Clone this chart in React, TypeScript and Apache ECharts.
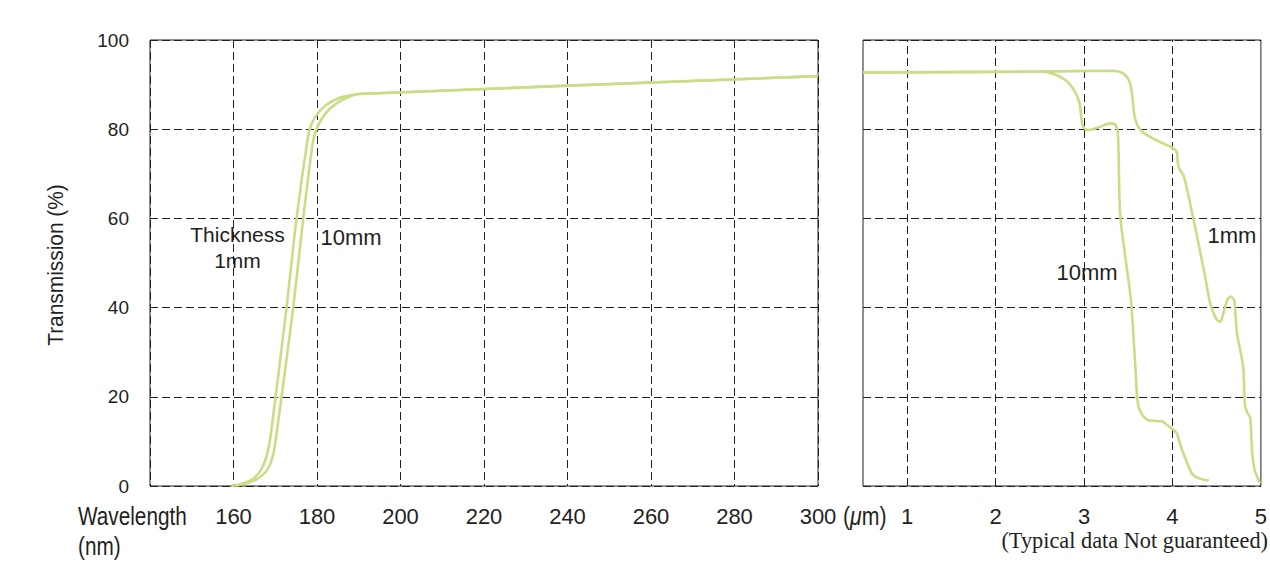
import React, { useEffect, useRef } from "react";
import * as echarts from "echarts";

// UV region (nm) — transmission (%)
const uv1mm: [number, number][] = [
  [159.5, 0], [162, 0.5], [164.5, 1.5], [166.5, 3.5], [168, 7], [169, 12],
  [172.7, 40], [175.1, 60], [177.8, 78], [178.6, 81], [180, 83.3], [182, 85.3],
  [185, 86.9], [188, 87.6], [190, 87.9], [300, 91.9],
];
const uv10mm: [number, number][] = [
  [160.5, 0], [163, 0.6], [165.5, 1.5], [168, 3.5], [169.5, 7], [170.5, 13],
  [174.3, 40], [176.7, 60], [179, 77], [180, 80.3], [182, 83.5], [185, 86],
  [188, 87.4], [190, 87.9], [300, 91.9],
];

// IR region (µm) — transmission (%)
const ir1mm: [number, number][] = [
  [0.5, 92.7], [2.5, 92.9], [3.3, 93.1], [3.38, 93], [3.45, 92.4], [3.5, 91.3],
  [3.53, 89.5], [3.55, 86.5], [3.57, 83], [3.6, 81], [3.66, 79.4], [3.81, 77.6],
  [3.95, 76.3], [4.01, 75.7], [4.05, 74.8], [4.06, 72.5], [4.08, 71], [4.13, 69.4],
  [4.24, 59.6], [4.37, 46.9], [4.42, 41.5], [4.45, 39.5], [4.5, 37.3], [4.54, 36.8],
  [4.58, 39], [4.62, 41.7], [4.66, 42.5], [4.7, 41.5], [4.71, 39], [4.73, 34.2],
  [4.8, 26.7], [4.82, 18], [4.85, 16.3], [4.88, 15.3], [4.9, 8], [4.93, 3.6], [4.99, 0.6],
];
const ir10mm: [number, number][] = [
  [0.5, 92.7], [2.55, 92.9], [2.68, 92.2], [2.76, 91.4], [2.83, 90.3], [2.9, 88.3],
  [2.95, 85.8], [2.97, 82.5], [2.99, 80.5], [3.04, 79.8], [3.15, 80.3], [3.3, 81.3],
  [3.35, 81.1], [3.38, 79.5], [3.39, 75.3], [3.41, 60.4], [3.53, 41.7], [3.58, 26.7],
  [3.6, 20], [3.62, 17.5], [3.66, 15.9], [3.72, 14.8], [3.8, 14.6], [3.88, 14.5],
  [3.95, 13.5], [4.01, 12.6], [4.05, 11.8], [4.07, 10.5], [4.11, 8], [4.22, 2.8],
  [4.3, 1.7], [4.41, 1.2],
];

const irGridLines = [1, 2, 3, 4];

const LINE = "#c8de86";
const INK = "#231f20";
const SANS = "'Liberation Sans', Arial, sans-serif";
const SERIF = "'Liberation Serif', 'Times New Roman', serif";

const dashed = { color: INK, width: 1, type: [8, 4] as any };

export default function App() {
  const ref = useRef<HTMLDivElement>(null);
  useEffect(() => {
    if (!ref.current) return;
    const chart = echarts.init(ref.current, undefined, { renderer: "svg" });
    const lineSeries = (data: [number, number][], idx: number, extra: any = {}) => ({
      type: "line",
      xAxisIndex: idx,
      yAxisIndex: idx,
      data,
      smooth: 0.25,
      showSymbol: false,
      symbol: "none",
      lineStyle: { color: LINE, width: 2.6 },
      z: 5,
      ...extra,
    });
    chart.setOption({
      animation: false,
      backgroundColor: "#ffffff",
      grid: [
        { left: 150, top: 40, width: 668, height: 446, show: true, borderColor: INK, borderWidth: 1, backgroundColor: "transparent" },
        { left: 863, top: 40, width: 399, height: 446, show: true, borderColor: INK, borderWidth: 1, backgroundColor: "transparent" },
      ],
      xAxis: [
        {
          type: "value", gridIndex: 0, min: 140, max: 300, interval: 20,
          axisLine: { show: false }, axisTick: { show: false },
          splitLine: { show: true, lineStyle: dashed },
          axisLabel: {
            margin: 19, color: INK, fontSize: 22, fontFamily: SANS,
            formatter: (v: number) => (v === 140 ? "" : String(v)),
          },
        },
        {
          type: "value", gridIndex: 1, min: 0.5, max: 5, interval: 0.5,
          axisLine: { show: false }, axisTick: { show: false },
          splitLine: { show: false },
          axisLabel: {
            margin: 19, color: INK, fontSize: 22, fontFamily: SANS,
            formatter: (v: number) => (Number.isInteger(v) ? String(v) : ""),
          },
        },
      ],
      yAxis: [
        {
          type: "value", gridIndex: 0, min: 0, max: 100, interval: 20,
          axisLine: { show: false }, axisTick: { show: false },
          splitLine: { show: true, lineStyle: dashed },
          axisLabel: { margin: 21, color: INK, fontSize: 19, fontFamily: SANS, padding: [10, 0, 0, 0] },
        },
        {
          type: "value", gridIndex: 1, min: 0, max: 100, interval: 20,
          axisLine: { show: false }, axisTick: { show: false },
          splitLine: { show: true, lineStyle: dashed },
          axisLabel: { show: false },
        },
      ],
      series: [
        lineSeries(uv1mm, 0),
        lineSeries(uv10mm, 0),
        lineSeries(ir1mm, 1, {
          markLine: {
            silent: true, symbol: "none", label: { show: false },
            lineStyle: dashed, z: 1,
            data: irGridLines.map((x) => ({ xAxis: x })),
          },
        }),
        lineSeries(ir10mm, 1),
      ],
      graphic: [
        { type: "text", x: 56, y: 265, rotation: Math.PI / 2, scaleX: 0.95,
          style: { text: "Transmission (%)", fill: INK, font: `22px ${SANS}`, align: "center", verticalAlign: "middle" } },
        { type: "text", x: 78, y: 516, scaleX: 0.83,
          style: { text: "Wavelength", fill: INK, font: `25px ${SANS}`, align: "left", verticalAlign: "middle" } },
        { type: "text", x: 78, y: 546, scaleX: 0.83,
          style: { text: "(nm)", fill: INK, font: `25px ${SANS}`, align: "left", verticalAlign: "middle" } },
        { type: "text", x: 843, y: 516, scaleX: 0.85,
          style: { text: "({i|μ}m)", fill: INK, font: `25px ${SANS}`, align: "left", verticalAlign: "middle",
            rich: { i: { fontStyle: "italic", fontSize: 25, fontFamily: SANS, fill: INK } } } },
        { type: "text", x: 1268, y: 540, scaleX: 0.93,
          style: { text: "(Typical data Not guaranteed)", fill: INK, font: `24px ${SERIF}`, align: "right", verticalAlign: "middle" } },
        { type: "text", x: 237.5, y: 247,
          style: { text: "Thickness\n1mm", fill: INK, font: `21px ${SANS}`, lineHeight: 26, align: "center", verticalAlign: "middle" } },
        { type: "text", x: 351, y: 237,
          style: { text: "10mm", fill: INK, font: `22px ${SANS}`, align: "center", verticalAlign: "middle" } },
        { type: "text", x: 1232, y: 235,
          style: { text: "1mm", fill: INK, font: `22px ${SANS}`, align: "center", verticalAlign: "middle" } },
        { type: "text", x: 1087, y: 272,
          style: { text: "10mm", fill: INK, font: `22px ${SANS}`, align: "center", verticalAlign: "middle" } },
      ],
    });
    return () => chart.dispose();
  }, []);
  return (
    <div
      ref={ref}
      style={{ position: "fixed", left: 0, top: 0, width: 1270, height: 562, background: "#fff" }}
    />
  );
}
